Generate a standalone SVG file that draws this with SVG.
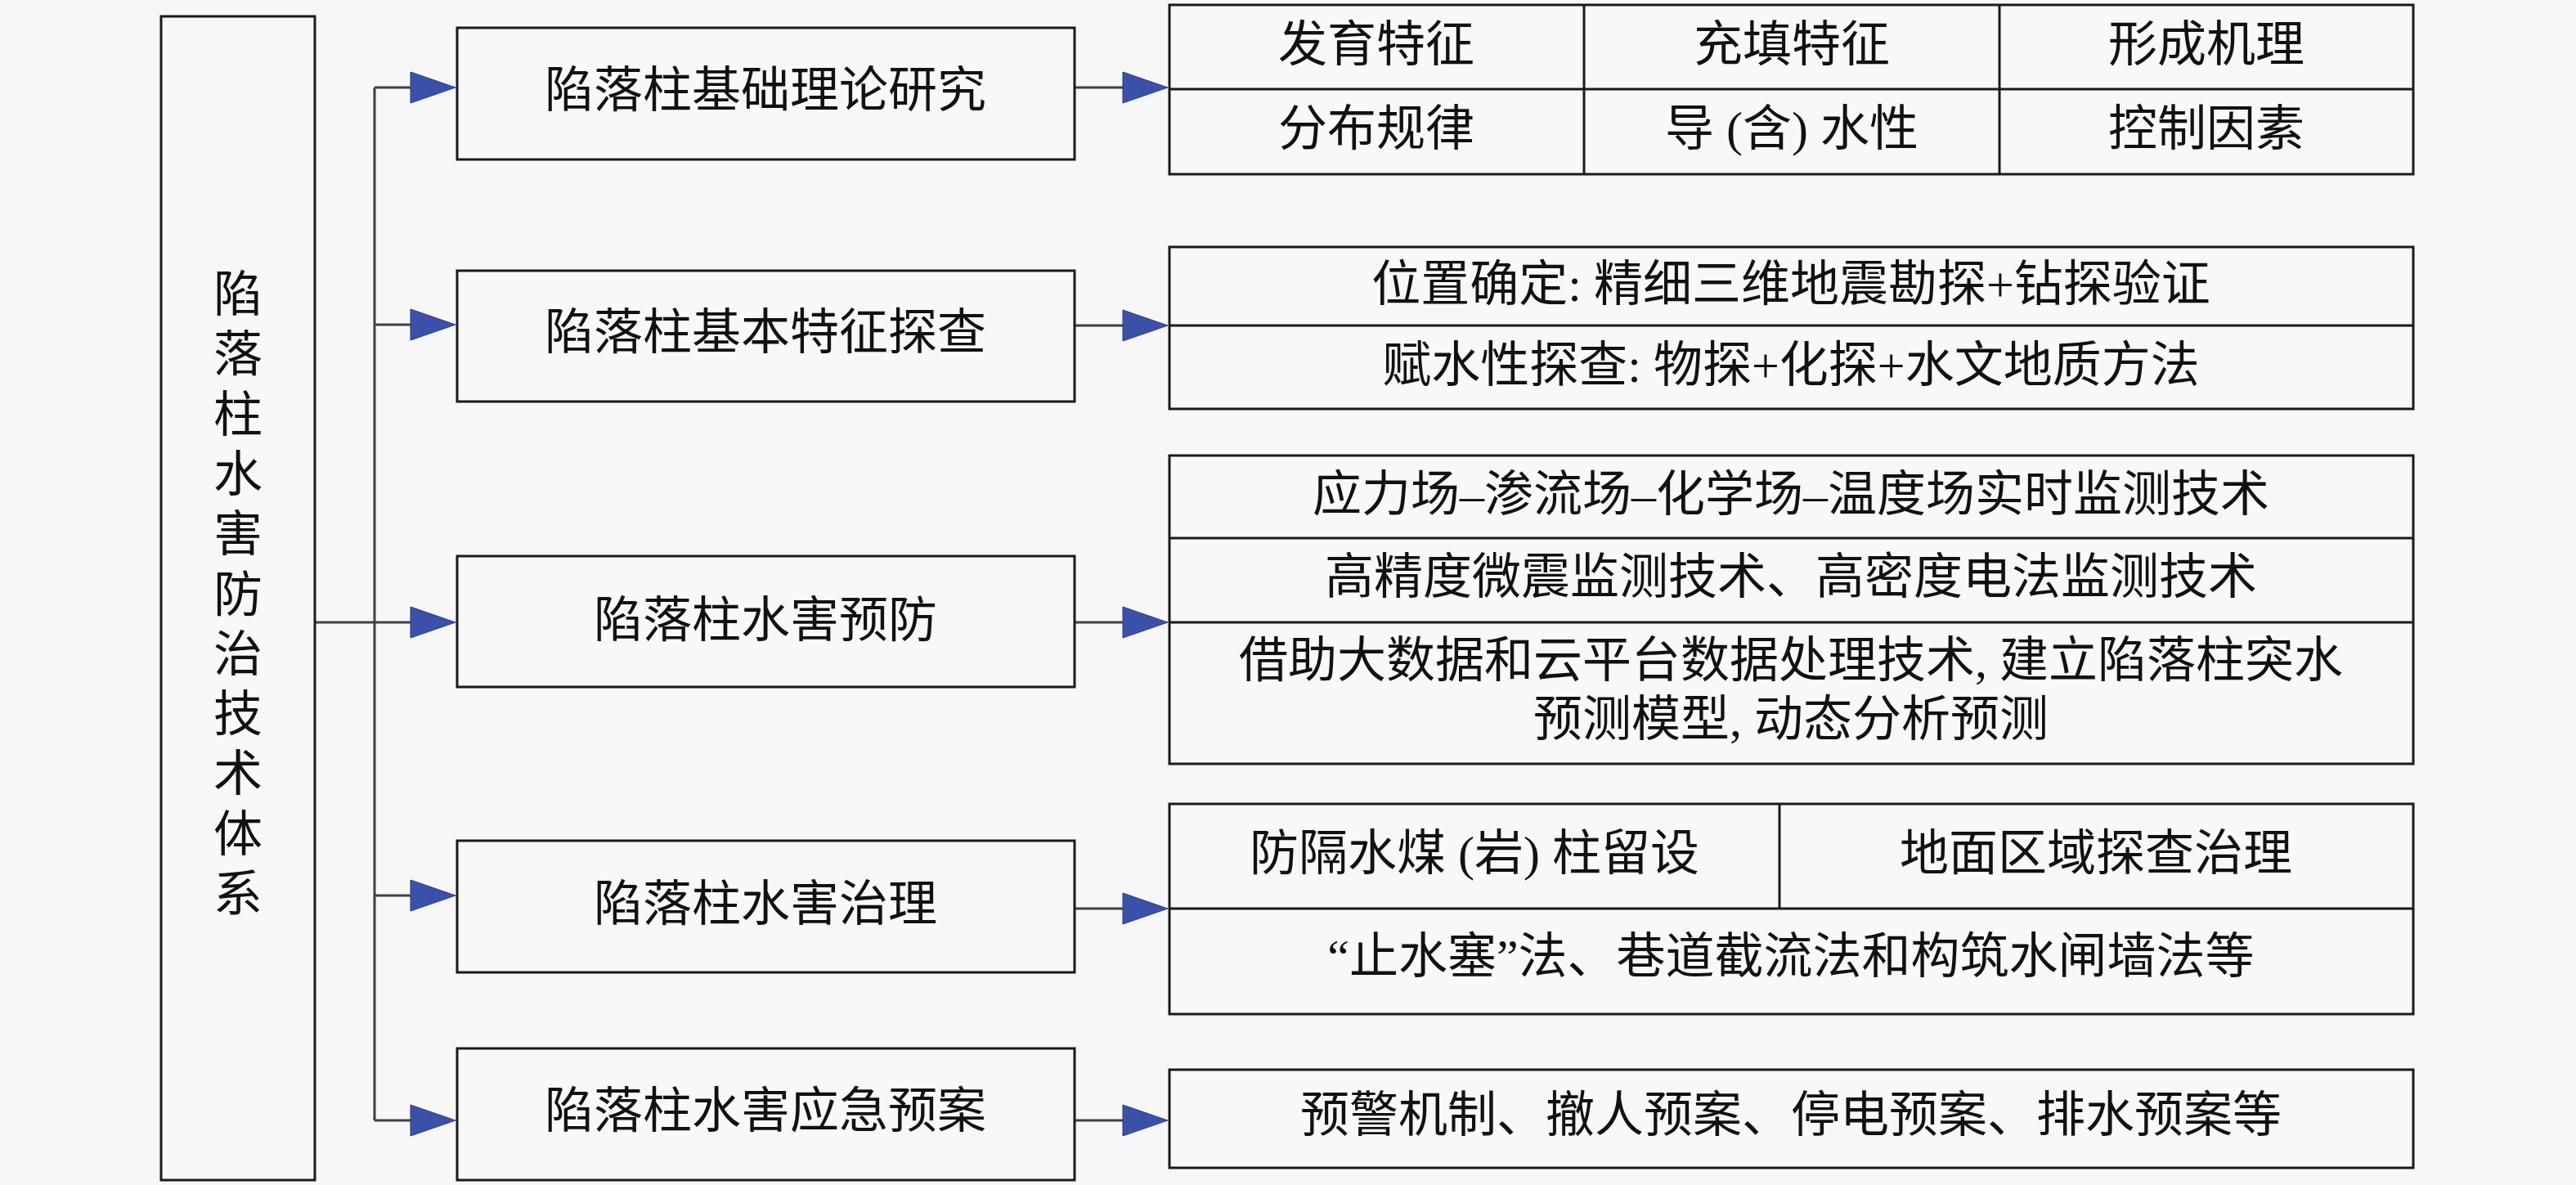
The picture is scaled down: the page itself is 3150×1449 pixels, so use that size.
<svg xmlns="http://www.w3.org/2000/svg" width="3150" height="1449" viewBox="0 0 3150 1449">
<defs>
<style>
.bg{fill:#f7f7f7}
.box{fill:#f8f8f8;stroke:#1a1a1a;stroke-width:3}
.ln{fill:none;stroke:#1a1a1a;stroke-width:3}
.con{fill:none;stroke:#404040;stroke-width:3}
.arr{fill:#3a51a7;stroke:#2d389c;stroke-width:1}
text{font-family:"Liberation Serif","Noto Sans CJK SC",serif;font-size:60px;fill:#111;text-anchor:middle;dominant-baseline:central}
</style>
<polygon id="ah" class="arr" points="0,-19 55,0 0,19"/>
</defs>
<rect class="bg" x="0" y="0" width="3150" height="1449"/>

<g id="connectors">
<path class="con" d="M458,107 V1370"/>
<path class="con" d="M458,107 H505 M458,397 H505 M385,761 H505 M458,1095 H505 M458,1370 H505"/>
<path class="con" d="M1314,107 H1376 M1314,398 H1376 M1314,761 H1376 M1314,1111 H1376 M1314,1370 H1376"/>
<use href="#ah" x="502" y="107"/>
<use href="#ah" x="502" y="397"/>
<use href="#ah" x="502" y="761"/>
<use href="#ah" x="502" y="1095"/>
<use href="#ah" x="502" y="1370"/>
<use href="#ah" x="1373" y="107"/>
<use href="#ah" x="1373" y="398"/>
<use href="#ah" x="1373" y="761"/>
<use href="#ah" x="1373" y="1111"/>
<use href="#ah" x="1373" y="1370"/>
</g>

<g id="root">
<rect class="box" x="197" y="20" width="188" height="1423"/>
<text x="291" y="361">陷</text>
<text x="291" y="434">落</text>
<text x="291" y="508">柱</text>
<text x="291" y="581">水</text>
<text x="291" y="654">害</text>
<text x="291" y="728">防</text>
<text x="291" y="801">治</text>
<text x="291" y="874">技</text>
<text x="291" y="947">术</text>
<text x="291" y="1021">体</text>
<text x="291" y="1094">系</text>
</g>

<g id="n1">
<rect class="box" x="559" y="34" width="755" height="161"/>
<text x="936" y="111">陷落柱基础理论研究</text>
</g>
<g id="n2">
<rect class="box" x="559" y="331" width="755" height="160"/>
<text x="936" y="407">陷落柱基本特征探查</text>
</g>
<g id="n3">
<rect class="box" x="559" y="680" width="755" height="160"/>
<text x="936" y="759">陷落柱水害预防</text>
</g>
<g id="n4">
<rect class="box" x="559" y="1028" width="755" height="161"/>
<text x="936" y="1106">陷落柱水害治理</text>
</g>
<g id="n5">
<rect class="box" x="559" y="1282" width="755" height="161"/>
<text x="936" y="1359">陷落柱水害应急预案</text>
</g>

<g id="t1">
<rect class="box" x="1430" y="6" width="1521" height="207"/>
<path class="ln" d="M1430,109 H2951 M1937,6 V213 M2445,6 V213"/>
<text x="1683" y="55">发育特征</text>
<text x="2191" y="55">充填特征</text>
<text x="2698" y="55">形成机理</text>
<text x="1683" y="158">分布规律</text>
<text x="2191" y="158">导 (含) 水性</text>
<text x="2698" y="158">控制因素</text>
</g>

<g id="t2">
<rect class="box" x="1430" y="302" width="1521" height="198"/>
<path class="ln" d="M1430,398 H2951"/>
<text x="2190" y="348">位置确定: 精细三维地震勘探+钻探验证</text>
<text x="2190" y="447">赋水性探查: 物探+化探+水文地质方法</text>
</g>

<g id="t3">
<rect class="box" x="1430" y="557" width="1521" height="377"/>
<path class="ln" d="M1430,658 H2951 M1430,761 H2951"/>
<text x="2190" y="605">应力场–渗流场–化学场–温度场实时监测技术</text>
<text x="2190" y="706">高精度微震监测技术、高密度电法监测技术</text>
<text x="2190" y="808">借助大数据和云平台数据处理技术, 建立陷落柱突水</text>
<text x="2190" y="880">预测模型, 动态分析预测</text>
</g>

<g id="t4">
<rect class="box" x="1430" y="983" width="1521" height="257"/>
<path class="ln" d="M1430,1111 H2951 M2176,983 V1111"/>
<text x="1803" y="1044">防隔水煤 (岩) 柱留设</text>
<text x="2563" y="1044">地面区域探查治理</text>
<text x="2190" y="1170">“止水塞”法、巷道截流法和构筑水闸墙法等</text>
</g>

<g id="t5">
<rect class="box" x="1430" y="1308" width="1521" height="120"/>
<text x="2190" y="1364">预警机制、撤人预案、停电预案、排水预案等</text>
</g>
</svg>
